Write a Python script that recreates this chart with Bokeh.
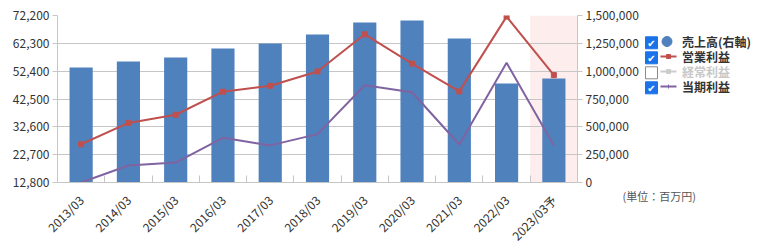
import math
from bokeh.plotting import figure
from bokeh.layouts import row, column
from bokeh.models import (Range1d, LinearAxis, FixedTicker, NumeralTickFormatter,
                          BoxAnnotation, ColumnDataSource)
from bokeh.core.properties import value
from bokeh.embed import file_html
from bokeh.resources import INLINE

# ---- data ----
categories = ["2013/03", "2014/03", "2015/03", "2016/03", "2017/03", "2018/03",
              "2019/03", "2020/03", "2021/03", "2022/03", "2023/03予"]
sales = [1033000, 1087000, 1123000, 1204000, 1248000, 1329000,
         1437000, 1455000, 1293000, 889000, 934000]          # 売上高 (right axis)
operating_profit = [26400, 34000, 36900, 45100, 47200, 52300,
                    65500, 55100, 45200, 71800, 51000]       # 営業利益
net_profit = [12800, 18850, 19900, 28700, 26000, 30000,
              47400, 44900, 26300, 55400, 26000]              # 当期利益
left_ticks = [12800, 22700, 32600, 42500, 52400, 62300, 72200]
right_ticks = [0, 250000, 500000, 750000, 1000000, 1250000, 1500000]
forecast_label = "2023/03予"
legend_labels = ["売上高(右軸)", "営業利益", "経常利益", "当期利益"]
legend_checked = [True, True, False, True]
unit_text = "(単位：百万円)"

FONT = "Noto Sans CJK JP"
BAR = "#4F81BD"
RED = "#C0504D"
PURPLE = "#8064A2"
GREY = "#cccccc"
GRID = "#c6c6c6"
CHECK = "#1a73e8"

n = len(categories)
xs = [i + 0.5 for i in range(n)]

p = figure(width=760, height=252, output_backend="svg", toolbar_location=None,
           x_range=Range1d(0, n), y_range=Range1d(left_ticks[0], left_ticks[-1]),
           min_border_left=57, min_border_right=183, min_border_top=15,
           min_border_bottom=70, outline_line_color=None)
p.extra_y_ranges = {"right": Range1d(right_ticks[0], right_ticks[-1])}

# forecast band
fi = categories.index(forecast_label)
band = BoxAnnotation(left=fi, right=fi + 1, fill_color="#FDEDEC", fill_alpha=1.0,
                     line_color=None, level="image")
p.add_layout(band)

src = ColumnDataSource(dict(x=xs, sales=sales, op=operating_profit, net=net_profit))
p.vbar(x="x", top="sales", width=0.49, bottom=0, source=src,
       fill_color=BAR, line_color=None, y_range_name="right")
p.line("x", "op", source=src, line_color=RED, line_width=2)
p.scatter("x", "op", source=src, marker="square", size=5, fill_color=RED, line_color=RED)
p.line("x", "net", source=src, line_color=PURPLE, line_width=2)

# axes
p.xaxis.ticker = FixedTicker(ticks=xs, minor_ticks=list(range(1, n)))
p.xaxis.major_label_overrides = {x: c for x, c in zip(xs, categories)}
p.xaxis.major_label_orientation = math.pi / 4
p.xaxis.major_tick_in = 0
p.xaxis.major_tick_out = 0
p.xaxis.minor_tick_in = 7
p.xaxis.minor_tick_out = 0
p.xaxis.minor_tick_line_color = GRID
p.xaxis.axis_line_color = GRID
p.xaxis.major_label_standoff = 15

p.yaxis.ticker = FixedTicker(ticks=left_ticks)
p.yaxis.formatter = NumeralTickFormatter(format="0,0")

ry = LinearAxis(y_range_name="right", ticker=FixedTicker(ticks=right_ticks),
                formatter=NumeralTickFormatter(format="0,0"))
p.add_layout(ry, "right")

for ax in [p.yaxis[0], ry]:
    ax.axis_line_color = GRID
    ax.major_tick_in = 0
    ax.major_tick_out = 5
    ax.major_tick_line_color = GRID
    ax.minor_tick_line_color = None
    ax.major_label_standoff = 3

for ax in [p.xaxis[0], p.yaxis[0], ry]:
    ax.major_label_text_font = FONT
    ax.major_label_text_font_size = "12px"
    ax.major_label_text_color = "#333333"

p.xgrid.grid_line_color = None
p.ygrid.grid_line_color = GRID
p.ygrid.ticker = FixedTicker(ticks=left_ticks)

# ---- legend overlay figure (pixel coordinates, transparent) ----
LX0 = 600
lg = figure(width=760 - LX0, height=252, output_backend="svg", toolbar_location=None,
            x_range=Range1d(LX0, 760), y_range=Range1d(252, 0),
            min_border=0, outline_line_color=None,
            background_fill_alpha=0, border_fill_alpha=0)
lg.axis.visible = False
lg.grid.visible = False

row_y = [41.0 + 15.0 * i for i in range(len(legend_labels))]
box_y = [y + 1.3 for y in row_y]
lg.rect(x=[651] * len(box_y), y=box_y, width=12, height=12,
        fill_color=[CHECK if c else "white" for c in legend_checked],
        line_color=[CHECK if c else "#8a8a8a" for c in legend_checked], line_width=1)
lg.text(x=[651] * len(box_y), y=[y + 0.5 for y in box_y],
        text=["✔" if c else "" for c in legend_checked],
        text_color="white", text_font=value("DejaVu Sans"), text_font_size="10px",
        text_align="center", text_baseline="middle")

# series symbols
lg.scatter(x=[666.5], y=[row_y[0]], marker="circle", size=10, fill_color=BAR, line_color=BAR)
sym_colors = [RED, GREY, PURPLE]
lg.segment(x0=[660] * 3, y0=row_y[1:], x1=[676] * 3, y1=row_y[1:],
           line_color=sym_colors, line_width=2)
lg.scatter(x=[668] * 2, y=row_y[1:3], marker="square", size=4,
           fill_color=sym_colors[:2], line_color=sym_colors[:2])
lg.scatter(x=[668], y=[row_y[3]], marker="cross", size=4, line_color=PURPLE)

lg.text(x=[681.5] * len(row_y), y=row_y, text=legend_labels,
        text_color=["#333333" if c else "#c8c8c8" for c in legend_checked],
        text_font=value(FONT), text_font_size="12px", text_font_style="bold",
        text_align="left", text_baseline="middle")

lg.text(x=[622], y=[195], text=[unit_text], text_color="#555555",
        text_font=value(FONT), text_font_size="11px",
        text_align="left", text_baseline="middle")

overlay = column(lg, margin=(0, 0, 0, -(760 - LX0)))
layout = row(p, overlay)
open("out.html", "w").write(file_html(layout, INLINE))
